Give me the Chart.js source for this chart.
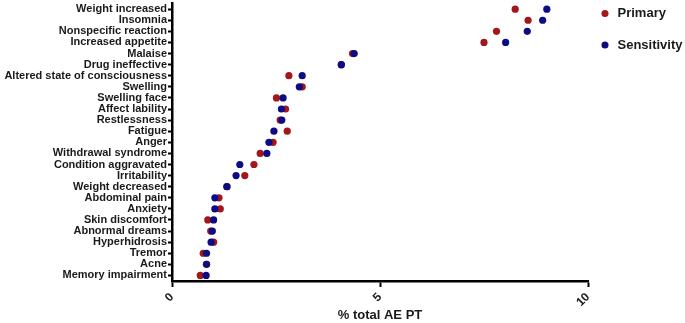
<!DOCTYPE html>
<html>
<head>
<meta charset="utf-8">
<script src="https://cdn.jsdelivr.net/npm/chart.js@4"></script>
<style>
  html, body { margin: 0; padding: 0; background: #fff; }
  #wrap { width: 685px; height: 323px; }
</style>
</head>
<body>
<div id="wrap"><canvas id="aeChart"></canvas></div>
<script>
// Adverse event preferred terms, top to bottom
const terms = [
  'Weight increased', 'Insomnia', 'Nonspecific reaction', 'Increased appetite',
  'Malaise', 'Drug ineffective', 'Altered state of consciousness', 'Swelling',
  'Swelling face', 'Affect lability', 'Restlessness', 'Fatigue', 'Anger',
  'Withdrawal syndrome', 'Condition aggravated', 'Irritability', 'Weight decreased',
  'Abdominal pain', 'Anxiety', 'Skin discomfort', 'Abnormal dreams',
  'Hyperhidrosis', 'Tremor', 'Acne', 'Memory impairment'
];

// % of total AE PT
const primary = [
  8.25, 8.56, 7.80, 7.50, 4.34, 4.07, 2.81, 3.13, 2.51, 2.73, 2.60, 2.77, 2.43,
  2.12, 1.97, 1.75, 1.32, 1.13, 1.16, 0.86, 0.93, 1.00, 0.75, 0.83, 0.68
];
const sensitivity = [
  9.01, 8.91, 8.54, 8.02, 4.38, 4.07, 3.13, 3.06, 2.67, 2.63, 2.64, 2.45, 2.33,
  2.28, 1.63, 1.54, 1.32, 1.03, 1.03, 1.00, 0.97, 0.94, 0.83, 0.83, 0.82
];

const xTicks = [0, 5, 10];

const fontFamily = "'Liberation Sans', Arial, sans-serif";
const textColor = '#1a1a1a';

// put the legend where it sits in the original (right of the plot, near the top)
const legendPlacer = {
  id: 'legendPlacer',
  afterLayout(chart) {
    const lg = chart.legend;
    if (!lg) return;
    lg.left = 580.5;
    lg.top = -11.5;
  }
};

const ctx = document.getElementById('aeChart').getContext('2d');
const chart = new Chart(ctx, {
  type: 'line',
  data: {
    labels: terms,
    datasets: [
      {
        label: 'Primary',
        data: primary,
        showLine: false,
        pointRadius: 3.6,
        pointHoverRadius: 3.6,
        pointBorderWidth: 0,
        pointBackgroundColor: '#a3161a',
        backgroundColor: '#a3161a',
        borderColor: '#a3161a',
        order: 1
      },
      {
        label: 'Sensitivity',
        data: sensitivity,
        showLine: false,
        pointRadius: 3.6,
        pointHoverRadius: 3.6,
        pointBorderWidth: 0,
        pointBackgroundColor: '#0c0c84',
        backgroundColor: '#0c0c84',
        borderColor: '#0c0c84',
        order: 0
      }
    ]
  },
  options: {
    indexAxis: 'y',
    responsive: true,
    maintainAspectRatio: false,
    animation: false,
    layout: { padding: { top: 2, right: 0, left: 0, bottom: 0 } },
    plugins: {
      tooltip: { enabled: false },
      legend: {
        position: 'right',
        align: 'start',
        maxWidth: 97,
        labels: {
          usePointStyle: true,
          pointStyle: 'circle',
          boxWidth: 12,
          boxHeight: 5,
          padding: 18.5,
          color: textColor,
          font: { family: fontFamily, size: 13, weight: 'bold' },
          sort: (a, b) => a.datasetIndex - b.datasetIndex
        }
      }
    },
    scales: {
      y: {
        type: 'category',
        offset: true,
        afterFit: (scale) => {
          scale.width = 172;
          scale.paddingTop = 0;
          scale.paddingBottom = 0;
        },
        grid: {
          drawOnChartArea: false,
          drawTicks: true,
          tickLength: 4,
          tickWidth: 2,
          tickColor: '#000',
          offset: false
        },
        border: { display: true, color: '#000', width: 2.5 },
        ticks: {
          autoSkip: false,
          padding: 1,
          color: textColor,
          font: { family: fontFamily, size: 11, weight: 'bold' }
        }
      },
      x: {
        type: 'linear',
        min: 0,
        max: 10,
        afterFit: (scale) => { scale.height = 42; },
        afterBuildTicks: (scale) => { scale.ticks = xTicks.map(v => ({ value: v })); },
        grid: {
          drawOnChartArea: false,
          drawTicks: true,
          tickLength: 6,
          tickWidth: 2,
          tickColor: '#000'
        },
        border: { display: true, color: '#000', width: 2.5 },
        ticks: {
          minRotation: 45,
          maxRotation: 45,
          padding: 3,
          color: textColor,
          font: { family: fontFamily, size: 12, weight: 'bold' }
        },
        title: {
          display: true,
          text: '% total AE PT',
          color: textColor,
          padding: { top: 0, bottom: 0 },
          font: { family: fontFamily, size: 13, weight: 'bold' }
        }
      }
    }
  },
  plugins: [legendPlacer]
});
</script>
</body>
</html>
